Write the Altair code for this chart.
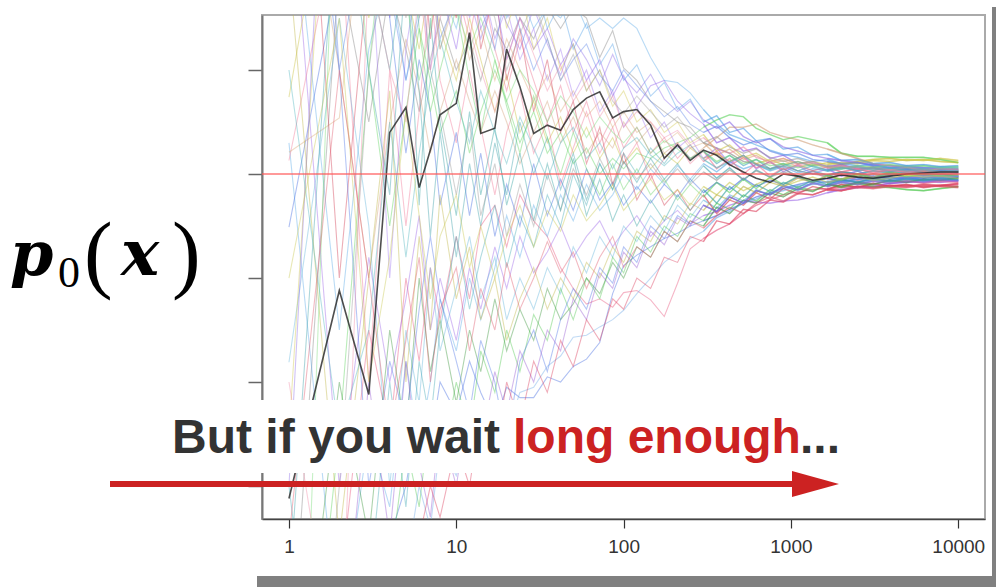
import altair as alt
import pandas as pd

# sample positions (iteration count, log axis)
N = [1, 2, 3, 4, 5, 6, 7, 8, 10, 12, 14, 17, 20, 24, 29, 35, 42, 50, 60, 72, 86, 100,
     120, 145, 175, 210, 250, 300, 360, 430, 520, 620, 750, 900, 1100, 1350, 1650,
     2000, 2500, 3100, 3900, 4900, 6200, 7800, 10000]

# running estimates (red reference line at 0, axis ticks every 100)
black = [-312, -112, -212, 40, 64, -13, 23, 57, 68, 136, 39, 44, 120, 84, 39, 47, 42, 62, 73, 79, 54, 60, 62, 47, 15, 28, 13, 23, 18, 9, 2, -4, -8, 0, -2, -6, -4, -1, -3, -4, -2, 0, 1, 2, 2]

A = [300, -150, 120, 200, 90, 160, 230, 180, 140, 200, 170, 190, 150, 175, 140, 160, 150, 170, 140, 150, 140, 150, 140, 112, 90, 88, 78, 62, 48, 38, 33, 28, 23, 19, 16, 12, 14, 10, 8, 9, 6, 7, 5, 6, 5]
B = [-500, 200, 50, 180, 120, 60, 110, 150, 100, 130, 90, 140, 120, 150, 130, 160, 140, 160, 150, 112, 138, 102, 90, 70, 60, 50, 45, 30, 25, 20, 12, 10, 5, 8, 3, 0, -2, 2, 0, -3, -1, 1, -1, 0, -2]
C = [-700, -250, 100, -50, 60, 140, 90, 40, 80, 20, 60, 100, 70, 30, 60, 20, 40, 10, 25, 0, 15, 5, 20, 15, 25, 30, 35, 45, 52, 57, 55, 44, 38, 33, 36, 33, 30, 20, 17, 17, 16, 16, 16, 14, 11]
D = [400, 100, -100, 50, 130, 80, 20, 60, 110, 70, 40, 80, 50, 10, 40, 70, 30, 55, 20, 40, 25, 50, 30, 45, 20, 30, 15, 25, 35, 45, 45, 48, 40, 36, 33, 28, 24, 20, 15, 10, 8, 6, 5, 4, 5]
E = [-900, -400, -150, -250, -100, -180, -90, -140, -60, -120, -50, -30, -70, -20, -45, -60, -90, -110, -125, -120, -128, -114, -112, -121, -137, -105, -72, -62, -54, -48, -38, -30, -25, -20, -17, -15, -14, -13, -12, -12, -11, -11, -12, -11, -10]
F = [-1200, -600, -420, -350, -300, -220, -260, -200, -230, -180, -210, -240, -205, -215, -215, -195, -200, -185, -178, -162, -115, -88, -78, -70, -62, -57, -50, -45, -40, -34, -28, -22, -18, -14, -10, -7, -8, -5, -3, -4, -3, -5, -3, -4, -3]
H = [300, -300, -80, -200, -120, -40, -150, -100, -160, -90, -130, -70, -110, -60, -95, -75, -50, -80, -60, -45, -70, -55, -40, -60, -45, -35, -48, -40, -36, -30, -26, -27, -28, -26, -25, -22, -18, -15, -13, -12, -9, -8, -7, -8, -6]
I = [74, 350, 150, 260, 180, 120, 190, 140, 90, 150, 110, 60, 95, 40, 70, 30, 55, 20, 45, 15, 35, 10, 25, 5, 20, 10, 25, 15, 20, 12, 18, 10, 14, 9, 12, 8, 11, 9, 12, 14, 15, 13, 14, 12, 11]
J = [30, -450, -250, -320, -180, -260, -200, -120, -170, -100, -140, -90, -40, -80, -30, -60, -20, -45, -10, -35, -20, 0, -15, 5, -10, 8, -5, 10, 2, 12, 5, 9, 3, 7, 1, 5, 3, 6, 4, 7, 5, 8, 6, 7, 6]
K = [13, 250, -200, 100, -50, 60, 180, 90, 30, 100, 45, -20, 40, 80, 20, 50, -10, 25, 60, 20, 45, 10, 30, -5, 15, 30, 10, 22, 5, 15, 0, 10, -2, 6, -4, 3, -5, 0, -6, -3, -8, -6, -9, -7, -8]
L = [-51, 200, 400, 150, 20, 110, 60, -30, 40, -40, 20, -60, -10, -50, 10, -40, -5, -35, 5, -25, -8, -30, -12, -28, -10, -22, -5, -18, -8, -15, -4, -12, -6, -10, -3, -8, -4, -7, -5, -2, -5, -3, -4, -2, -3]
M = [-181, 150, -50, -300, -150, -220, -90, -170, -110, -60, -120, -80, -140, -100, -130, -90, -115, -70, -95, -60, -80, -50, -65, -40, -55, -30, -42, -25, -33, -20, -26, -15, -20, -12, -16, -9, -12, -8, -10, -6, -8, -5, -7, -5, -6]
Nn = [21, 54, 300, 200, 260, 150, 210, 120, 170, 110, 140, 90, 130, 100, 70, 95, 60, 80, 55, 70, 45, 60, 40, 50, 30, 40, 25, 30, 18, 24, 14, 18, 10, 13, 7, 10, 6, 8, 5, 7, 4, 6, 3, 5, 4]
P = [900, 400, 250, -100, 120, 200, 100, 170, 220, 150, 190, 130, 160, 110, 140, 90, 120, 75, 100, 60, 80, 45, 65, 35, 50, 25, 35, 15, 25, 10, 18, 5, 12, 2, 8, 0, 5, -2, 3, -3, 1, -4, -1, -3, -2]
Q = [-1500, -800, -500, -380, -260, -320, -230, -280, -200, -250, -170, -210, -150, -190, -135, -160, -110, -140, -100, -120, -80, -95, -60, -75, -50, -60, -38, -45, -28, -34, -20, -26, -15, -20, -12, -16, -10, -13, -9, -12, -13, -15, -16, -14, -12]
R = [600, -100, 200, 350, 160, 240, 130, 210, 150, 230, 120, 180, 90, 140, 60, 110, 40, 70, 10, 45, -10, 20, -25, 0, -30, -15, -35, -20, -38, -25, -30, -18, -24, -14, -19, -12, -15, -10, -13, -9, -12, -10, -13, -11, -12]
S = [-400, 300, 100, -20, 200, 80, -60, 40, -80, 10, -50, 30, -20, 50, 0, 35, -15, 20, -25, 10, -15, 12, -8, 15, -5, 10, -8, 8, -4, 6, -6, 4, -3, 5, -2, 3, -1, 2, 0, 3, 1, 2, 0, 2, 1]
T = [-600, -200, -350, -150, -250, -100, -190, -140, -220, -150, -190, -120, -170, -130, -160, -110, -140, -125, -100, -115, -85, -100, -70, -80, -55, -65, -45, -50, -32, -38, -25, -28, -18, -22, -14, -17, -10, -12, -8, -10, -6, -8, -5, -6, -4]
U = [1200, 700, 500, 380, 300, 360, 250, 180, 120, 200, 140, 170, 110, 150, 120, 140, 105, 125, 90, 110, 75, 95, 65, 85, 90, 70, 58, 48, 30, 35, 22, 25, 15, 18, 10, 12, 7, 9, 5, 6, 3, 4, 2, 3, 1]
V = [-2000, -900, -600, -450, -380, -300, -340, -260, -290, -240, -270, -220, -250, -210, -205, -185, -175, -157, -155, -147, -140, -131, -115, -100, -85, -75, -62, -55, -42, -36, -28, -24, -18, -16, -11, -10, -7, -8, -5, -6, -4, -5, -3, -4, -2]
W = [200, -350, -100, 80, -200, -60, -150, -20, -120, -70, -140, -100, -160, -120, -90, -130, -100, -120, -85, -100, -70, -85, -55, -65, -40, -48, -28, -35, -20, -25, -12, -18, -8, -12, -4, -8, -2, -5, 0, -3, 2, -1, 3, 1, 2]
X = [1500, 800, 450, 300, 400, 260, 330, 240, 180, 130, 190, 120, 80, 130, 90, 50, 85, 40, 70, 30, 55, 25, 45, 20, 35, 15, 28, 12, 22, 8, 16, 6, 12, 4, 9, 3, 7, 2, 5, 1, 4, 2, 3, 1, 2]
Y = [-300, -700, -400, -200, -320, -180, -240, -150, -60, -130, -80, -30, -90, -40, -70, -20, -50, 0, -30, 10, -15, 20, 0, 25, 10, 28, 15, 22, 10, 18, 8, 14, 5, 10, 3, 8, 4, 7, 3, 6, 2, 5, 1, 4, 2]
Z = [500, 100, -300, -180, -240, -130, -60, -120, -180, -230, -160, -200, -260, -180, -150, -190, -140, -110, -130, -90, -105, -70, -85, -50, -62, -40, -48, -30, -36, -22, -28, -16, -20, -11, -15, -8, -11, -6, -8, -5, -7, -4, -6, -5, -6]
AA = [-800, -300, 100, 250, 150, 220, 100, 60, -20, 50, -40, 10, -60, -10, -50, 0, -35, 5, -20, 15, -10, 12, -5, 10, -8, 5, -10, 2, -6, 4, -5, 3, -3, 2, -2, 1, -1, 0, -2, 0, -1, 1, -1, 0, -1]
AB = [700, 300, 450, 200, 280, 140, 60, 100, 160, 90, 40, 110, 65, 20, 75, 35, 0, 40, 5, -20, 10, -15, 5, -20, -5, -25, -10, -22, -8, -18, -5, -14, -3, -10, -2, -8, -1, -6, 0, -4, 1, -3, 0, -2, -1]
AC = [-1000, -500, -200, -350, -180, -280, -330, -240, -300, -220, -260, -190, -230, -170, -200, -150, -170, -120, -140, -95, -110, -75, -90, -55, -68, -42, -50, -30, -36, -22, -28, -16, -20, -12, -15, -9, -12, -8, -10, -7, -9, -7, -8, -6, -7]
AD = [-250, 500, 300, 420, 250, 330, 200, 270, 190, 240, 160, 210, 140, 180, 120, 150, 100, 125, 80, 100, 65, 80, 50, 62, 40, 50, 30, 38, 22, 28, 16, 20, 12, 15, 10, 12, 9, 11, 10, 13, 12, 14, 13, 15, 13]
AE = [350, 600, 200, 100, 220, -30, 150, 50, -40, 60, -20, 45, -30, 20, -45, 10, -35, 15, -40, -5, -45, -20, -50, -25, -45, -20, -35, -15, -28, -12, -22, -10, -17, -8, -13, -6, -10, -5, -8, -4, -7, -5, -6, -4, -5]
AF = [-1800, -1000, -700, -500, -420, -350, -300, -330, -260, -300, -230, -270, -200, -240, -180, -210, -160, -185, -140, -160, -120, -130, -100, -110, -80, -85, -60, -65, -45, -48, -34, -36, -25, -27, -19, -20, -15, -16, -12, -13, -11, -12, -10, -11, -9]
AG = [2500, 1200, 800, 600, 480, 400, 330, 290, 240, 200, 230, 180, 210, 160, 190, 140, 165, 120, 145, 105, 125, 90, 105, 75, 88, 62, 72, 50, 56, 40, 44, 32, 34, 24, 26, 18, 19, 13, 14, 10, 11, 8, 9, 7, 8]
AH = [-300, 600, 350, 150, 280, 190, 240, 160, 210, 170, 130, 175, 145, 120, 160, 125, 95, 130, 110, 85, 115, 92, 78, 96, 72, 60, 70, 52, 44, 50, 36, 30, 34, 26, 22, 18, 15, 13, 11, 9, 8, 7, 6, 5, 4]
AI = [800, 100, 260, 180, 90, 150, 200, 130, 170, 210, 160, 120, 180, 140, 100, 130, 90, 110, 125, 95, 80, 100, 85, 70, 55, 65, 48, 40, 46, 35, 28, 32, 22, 18, 20, 14, 12, 10, 11, 8, 6, 5, 4, 3, 3]
AJ = [-900, 400, 100, 300, 170, 90, 140, 200, 160, 120, 150, 110, 70, 100, 80, 50, 75, 60, 35, 55, 40, 30, 45, 20, 32, 24, 15, 22, 12, 18, 10, 14, 8, 10, 6, 9, 7, 5, 8, 6, 9, 7, 8, 6, 7]
AK = [-200, -500, 200, 100, 50, 180, 100, 150, 200, 140, 100, 60, 110, 150, 115, 80, 105, 70, 90, 55, 75, 45, 60, 50, 35, 42, 28, 35, 24, 20, 26, 16, 12, 15, 9, 11, 6, 8, 5, 3, 4, 2, 1, 2, 0]
AL = [100, -250, -150, 50, -80, 20, 90, 130, 70, 30, 80, 40, 10, 55, 25, -5, 30, 45, 15, 30, 5, 25, 35, 18, 8, 20, 28, 14, 6, 12, 18, 9, 4, 8, 12, 7, 3, 5, 7, 4, 6, 3, 5, 2, 3]
AM = [1000, 500, 300, 220, 160, 240, 190, 120, 180, 230, 190, 150, 100, 135, 165, 130, 90, 115, 80, 100, 70, 58, 75, 60, 45, 55, 40, 30, 36, 26, 20, 24, 16, 12, 15, 10, 8, 6, 7, 5, 4, 3, 4, 2, 3]
AN = [-100, 150, -200, -80, 60, -40, -120, -60, -20, -90, -50, -100, -60, -30, -70, -35, -55, -20, -45, -30, -10, -35, -20, -5, -25, -15, -30, -12, -20, -8, -16, -10, -4, -12, -7, -3, -8, -5, -2, -6, -4, -1, -3, -2, -4]
AO = [-350, 100, -100, -250, -160, -80, -200, -130, -90, -170, -110, -150, -85, -130, -100, -65, -95, -75, -110, -80, -60, -90, -70, -80, -55, -65, -45, -52, -40, -32, -38, -28, -22, -26, -18, -20, -15, -16, -13, -14, -12, -13, -11, -12, -13]

series = {"A": A, "B": B, "C": C, "D": D, "E": E, "F": F, "H": H, "I": I, "J": J,
          "K": K, "L": L, "M": M, "N": Nn, "P": P, "Q": Q, "R": R, "S": S, "T": T,
          "U": U, "V": V, "W": W, "X": X, "Y": Y, "Z": Z, "AA": AA, "AB": AB,
          "AC": AC, "AD": AD, "AE": AE, "AF": AF, "AG": AG, "AH": AH, "AI": AI,
          "AJ": AJ, "AK": AK, "AL": AL, "AM": AM, "AN": AN, "AO": AO}
colors = {"A": "#5aaae6", "B": "#808080", "C": "#5ad25a", "D": "#d2a07a", "E": "#e6507a",
          "F": "#4169e1", "H": "#9b64e6", "I": "#c8be3c", "J": "#5aaae6", "K": "#f07896",
          "L": "#4169e1", "M": "#64b4dc", "N": "#dcaa78", "P": "#a078f0", "Q": "#50c850",
          "R": "#d23c50", "S": "#3ca0aa", "T": "#3c963c", "U": "#8c5ae6", "V": "#6eaae6",
          "W": "#beb446", "X": "#eb6e8c", "Y": "#46aab4", "Z": "#5078e6", "AA": "#969696",
          "AB": "#64d264", "AC": "#965ad2", "AD": "#d2c850", "AE": "#32a0a0", "AF": "#dc3c5a",
          "AG": "#50a0e6", "AH": "#8c6ee6", "AI": "#5a82e6", "AJ": "#78dc78", "AK": "#f08caa",
          "AL": "#50b4be", "AM": "#a0a0a0", "AN": "#c8c850", "AO": "#e05a6e"}

rows = []
for name, vals in series.items():
    for n, v in zip(N, vals):
        rows.append({"n": n, "v": v, "id": name, "col": colors[name]})
df = pd.DataFrame(rows)
dfb = pd.DataFrame({"n": N, "v": black})

xs = alt.Scale(type="log", domain=[0.69, 14450], nice=False)
ys = alt.Scale(domain=[-331.7, 152.9], nice=False, zero=False)
xaxis = alt.Axis(values=[1, 10, 100, 1000, 10000], format="d", title=None, grid=False,
                 tickSize=9, tickColor="#333333", tickWidth=1.2, domainColor="#444444",
                 domainWidth=1.5, labelFont="Liberation Sans", labelFontSize=19,
                 labelColor="#333333", labelPadding=9, labelFlush=False)
yaxis = alt.Axis(values=[100, 0, -100, -200, -300], labels=False, title=None, grid=False,
                 tickSize=14, tickColor="#666666", tickWidth=1.5, domainColor="#777777",
                 domainWidth=2)
Xe = alt.X("n:Q", scale=xs, axis=xaxis)
Ye = alt.Y("v:Q", scale=ys, axis=yaxis)

base = alt.Chart(df).encode(x=Xe, y=Ye, detail="id:N", color=alt.Color("col:N", scale=None))
lines1 = base.mark_line(strokeWidth=1.1, opacity=0.42, clip=True)
lines2 = base.transform_filter("datum.n >= 300").mark_line(strokeWidth=1.5, opacity=0.35, clip=True)
lines3 = base.transform_filter("datum.n >= 1650").mark_line(strokeWidth=1.9, opacity=0.4, clip=True)
blk = alt.Chart(dfb).mark_line(color="#222222", strokeWidth=1.6, opacity=0.8, clip=True).encode(x=Xe, y=Ye)

red = alt.Chart(pd.DataFrame({"v": [0]})).mark_rule(color="#ff5555", strokeWidth=2, opacity=0.6).encode(y=Ye)

one = pd.DataFrame({"a": [0]})
box = alt.Chart(one).mark_rect(color="white").encode(
    x=alt.value(-112), x2=alt.value(618), y=alt.value(385), y2=alt.value(458))
arrow = alt.Chart(one).mark_rule(color="#cc2222", strokeWidth=6).encode(
    x=alt.value(-152), x2=alt.value(535), y=alt.value(469))
head = alt.Chart(one).mark_point(shape="M-1,-0.55L1,0L-1,0.55Z", size=2209, filled=True,
                                 color="#cc2222", opacity=1, strokeWidth=0).encode(
    x=alt.value(553.5), y=alt.value(469))


def txt(s, x, y, size, color, font="Liberation Sans", weight="bold", style="normal"):
    return alt.Chart(one).mark_text(text=s, font=font, fontWeight=weight, fontStyle=style,
                                    fontSize=size, color=color, align="left",
                                    baseline="alphabetic").encode(x=alt.value(x), y=alt.value(y))


t1 = txt("But if you wait ", -90, 438, 48, "#333333")
t2 = txt("long enough", 251, 438, 48, "#cc2222")
t3 = txt("...", 538, 438, 48, "#333333")

lp = txt("p", 10 - 262, 275 - 15, 62, "#000000", "DejaVu Serif", "bold", "italic")
l0 = txt("0", 58 - 262, 287 - 15, 44, "#000000", "Liberation Serif", "normal")
lo = txt("(", 84 - 262, 282 - 15, 86, "#000000", "Liberation Serif", "normal")
lx = txt("x", 121 - 262, 275 - 15, 64, "#000000", "DejaVu Serif", "bold", "italic")
lc = txt(")", 172 - 262, 282 - 15, 86, "#000000", "Liberation Serif", "normal")

gb = alt.Chart(one).mark_rect(color="#808080").encode(
    x=alt.value(-5), x2=alt.value(734), y=alt.value(561), y2=alt.value(572))
gr = alt.Chart(one).mark_rect(color="#808080").encode(
    x=alt.value(730), x2=alt.value(734), y=alt.value(-8), y2=alt.value(572))

chart = alt.layer(lines1, lines2, lines3, blk, red, box, arrow, head, t1, t2, t3,
                  lp, l0, lo, lx, lc, gb, gr).properties(
    width=723, height=504,
    autosize=alt.AutoSizeParams(type="none"),
    padding={"left": 262, "top": 15, "right": 11, "bottom": 68},
    background="white",
).configure_view(stroke="#aaaaaa", strokeWidth=2)

chart.save("out.html", embed_options={"renderer": "svg", "actions": False})
